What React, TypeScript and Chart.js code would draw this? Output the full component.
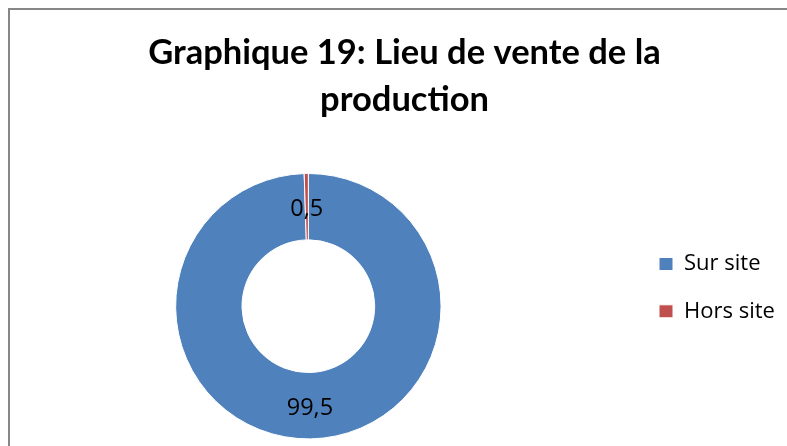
import React, { useEffect, useRef } from "react";
import { Chart, registerables } from "chart.js";

Chart.register(...registerables);

const categories = ["Sur site", "Hors site"];
const values = [99.5, 0.5];
const sliceColors = ["#4F81BD", "#C0504D"];
const titleLines = ["Graphique 19: Lieu de vente de la", "production"];

const fmt = (v: number) => String(v).replace(".", ",");

// Writes each slice's value at the middle of its arc (library geometry).
const valueLabels = {
  id: "valueLabels",
  afterDatasetsDraw(chart: any) {
    const { ctx } = chart;
    const meta = chart.getDatasetMeta(0);
    const data = chart.data.datasets[0].data as number[];
    ctx.save();
    ctx.font = "23.5px 'Open Sans'";
    ctx.fillStyle = "#000";
    ctx.textAlign = "center";
    ctx.textBaseline = "middle";
    meta.data.forEach((el: any, i: number) => {
      const p = el.tooltipPosition();
      ctx.fillText(fmt(data[i]), p.x, p.y + 2.5);
    });
    ctx.restore();
  },
};

// Reserves a wider legend column so the plot sits left of the title centre.
const LEGEND_WIDTH = 192.3;
const legendWidth = {
  id: "legendWidth",
  beforeLayout(chart: any) {
    const lg = chart.legend;
    if (lg && !lg.__wide) {
      const orig = lg.fit.bind(lg);
      lg.fit = function () {
        orig();
        this.width = LEGEND_WIDTH;
      };
      lg.__wide = true;
    }
  },
};

export default function App() {
  const ref = useRef<HTMLCanvasElement>(null);
  useEffect(() => {
    if (!ref.current) return;
    const chart = new Chart(ref.current, {
      type: "doughnut",
      data: {
        labels: categories,
        datasets: [
          {
            data: values,
            backgroundColor: sliceColors,
            borderColor: "#ffffff",
            borderWidth: 1,
          },
        ],
      },
      options: {
        responsive: false,
        animation: false,
        cutout: "50%",
        layout: { padding: { left: 0, right: 0, top: 0, bottom: 6.6 } },
        plugins: {
          title: {
            display: true,
            text: titleLines,
            color: "#000",
            font: { family: "Lato", size: 34.5, weight: "bold", lineHeight: "47px" },
            padding: { top: 19, bottom: 50 },
          },
          legend: {
            position: "right",
            align: "start",
            fullSize: false,
            title: {
              display: true,
              text: " ",
              padding: 21.35,
              font: { size: 10, lineHeight: 1.2 },
            },
            labels: {
              boxWidth: 14,
              boxHeight: 13,
              padding: 25.3,
              color: "#000",
              font: { family: "'Open Sans'", size: 22 },
            },
          },
          tooltip: { enabled: false },
        },
      } as any,
      plugins: [valueLabels, legendWidth],
    });
    return () => chart.destroy();
  }, []);

  return (
    <div
      style={{
        position: "fixed",
        left: 8,
        top: 8,
        width: 779,
        height: 438,
        overflow: "hidden",
        background: "#fff",
      }}
    >
      <div
        style={{
          width: 900,
          height: 600,
          borderTop: "2px solid #878787",
          borderLeft: "2px solid #878787",
          boxSizing: "border-box",
        }}
      />
      <canvas
        ref={ref}
        width={843}
        height={436}
        style={{ display: "block", position: "absolute", left: -25, top: 2 }}
      />
    </div>
  );
}
